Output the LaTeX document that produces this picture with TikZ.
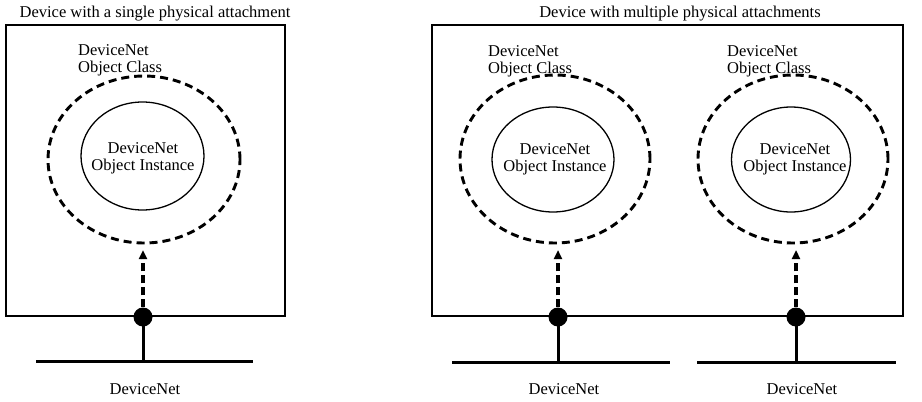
\documentclass[tikz,border=0pt]{standalone}
\usepackage{fontspec}
\setmainfont{Liberation Serif}
\usetikzlibrary{shapes.geometric,arrows.meta}
\begin{document}
\begin{tikzpicture}[x=1pt,y=-1pt,
  every node/.style={font=\fontsize{16.5}{17}\selectfont},
  devbox/.style={draw,line width=1.5pt},
  classell/.style={draw,ellipse,dashed,line width=2.9pt,dash pattern=on 8pt off 5pt},
  instell/.style={draw,ellipse,line width=1.3pt,inner sep=0pt},
  itxt/.style={align=center,inner sep=0pt},
  attach/.style={circle,fill=black,inner sep=0pt,minimum size=19pt},
  bus/.style={line width=3pt},
  link/.style={line width=3.2pt,dashed,dash pattern=on 8pt off 4pt,-{Triangle[length=9pt,width=8pt]}},
  lbl/.style={align=left,inner sep=0pt,anchor=base west}]
\useasboundingbox (0,0) rectangle (922,402);
% left device
\node[devbox,minimum width=279pt,minimum height=291pt,inner sep=0pt] (boxL) at (145.5,170.5) {};
\node (titleL) at (155,14) {Device with a single physical attachment};
\node[classell,minimum width=192pt,minimum height=167pt] (clsL) at (144,159.5) {};
\node[instell,minimum width=123pt,minimum height=108pt] (insL) at (142.5,156) {};
\node[itxt] (insLt) at (143,158) {DeviceNet\\Object Instance};
\node[lbl] (clL) at (78,72) {DeviceNet\\Object Class};
\node[attach] (dotL) at (143,317) {};
\coordinate (tipL) at (143,250);
\draw[link] (dotL) -- (tipL);
\coordinate (busL1) at (36,361);
\coordinate (busL2) at (253,361);
\draw[bus] (busL1) -- (busL2);
\draw[bus] (dotL.center) -- (dotL.center |- busL1);
\node (netL) at (145,389) {DeviceNet};
% right device
\node[devbox,minimum width=471pt,minimum height=291pt,inner sep=0pt] (boxR) at (667.5,170.5) {};
\node (titleR) at (680,14) {Device with multiple physical attachments};
\node[classell,minimum width=190pt,minimum height=168pt] (clsR1) at (555,159) {};
\node[instell,minimum width=122pt,minimum height=105pt] (insR1) at (553,159.5) {};
\node[itxt] (insR1t) at (555,159) {DeviceNet\\Object Instance};
\node[lbl] (clR1) at (488,73) {DeviceNet\\Object Class};
\node[classell,minimum width=190pt,minimum height=168pt] (clsR2) at (793,159) {};
\node[instell,minimum width=119pt,minimum height=105pt] (insR2) at (791,159.5) {};
\node[itxt] (insR2t) at (795,159) {DeviceNet\\Object Instance};
\node[lbl] (clR2) at (727,73) {DeviceNet\\Object Class};
\node[attach] (dotR1) at (558,317) {};
\node[attach] (dotR2) at (796,317) {};
\coordinate (tipR1) at (558,250);
\coordinate (tipR2) at (796,250);
\draw[link] (dotR1) -- (tipR1);
\draw[link] (dotR2) -- (tipR2);
\coordinate (busR1a) at (452,362);
\coordinate (busR1b) at (670,362);
\coordinate (busR2a) at (697,362);
\coordinate (busR2b) at (896,362);
\draw[bus] (busR1a) -- (busR1b);
\draw[bus] (busR2a) -- (busR2b);
\draw[bus] (dotR1.center) -- (dotR1.center |- busR1a);
\draw[bus] (dotR2.center) -- (dotR2.center |- busR2a);
\node (netR1) at (564,389) {DeviceNet};
\node (netR2) at (802,389) {DeviceNet};
\end{tikzpicture}
\end{document}
